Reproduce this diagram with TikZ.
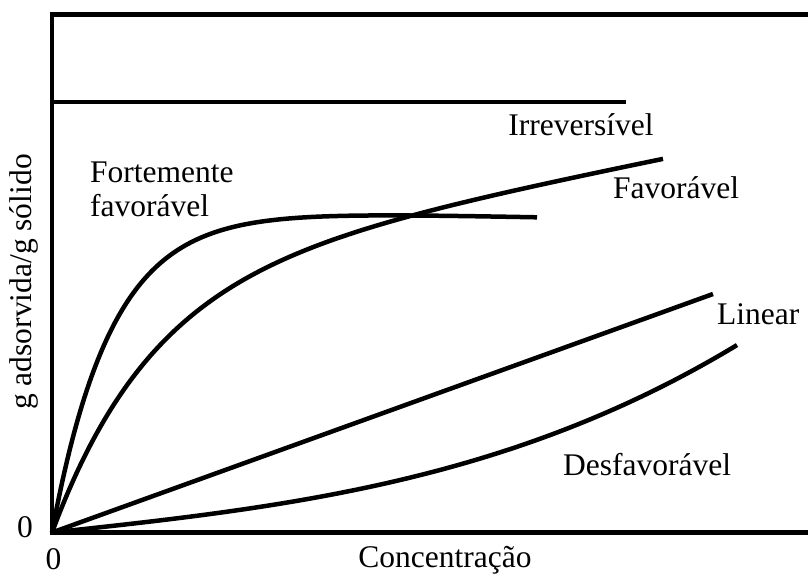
\documentclass[tikz,border=0pt]{standalone}
\usepackage{fontspec}
\setmainfont{Liberation Serif}
\begin{document}
\begin{tikzpicture}[x=1pt,y=-1pt,
  axisline/.style={line width=4.5pt},
  curve/.style={line width=4.5pt, line join=round},
  lbl/.style={inner sep=0pt, font=\fontsize{31.5}{36}\selectfont}]
\useasboundingbox (0,0) rectangle (808,576);
% axes frame (open at the right)
\draw[axisline] (808,14.7) -- (52,14.7) -- (52,532.5) -- (808,532.5);
\coordinate (O) at (52,532.5);
% irreversible
\draw[curve] (52,102) -- (626,102);
% strongly favourable
\draw[curve] plot[domain=0:485, samples=160, smooth]
  ({52+\x}, {532.5 - (325*(1-exp(-\x/60)) - 0.02*\x)});
% favourable
\draw[curve] plot[domain=0:611, samples=160, smooth]
  ({52+\x}, {532.5 - (252*(1-exp(-\x/100.7)) + 0.2*\x)});
% linear
\draw[curve] (O) -- (713,294);
% unfavourable
\draw[curve] plot[domain=0:685, samples=120, smooth]
  ({52+\x}, {532.5 - (0.108*\x + 0.353*(\x/100)^3)});
% labels
\node[lbl, anchor=base] (irr) at (581,135) {Irreversível};
\node[lbl, anchor=base west] (fort1) at (90,182) {Fortemente};
\node[lbl, anchor=base west] (fort2) at (90,216) {favorável};
\node[lbl, anchor=base west] (fav) at (613,198) {Favorável};
\node[lbl, anchor=base west] (lin) at (717,324) {Linear};
\node[lbl, anchor=base west] (desf) at (563,475) {Desfavorável};
\node[lbl, anchor=base] (xlab) at (445,567) {Concentração};
\node[lbl, anchor=base] (y0) at (25,537) {0};
\node[lbl, anchor=base] (x0) at (53.5,569) {0};
\node[lbl, anchor=base, rotate=90] (ylab) at (31,282) {g adsorvida/g sólido};
\end{tikzpicture}
\end{document}
